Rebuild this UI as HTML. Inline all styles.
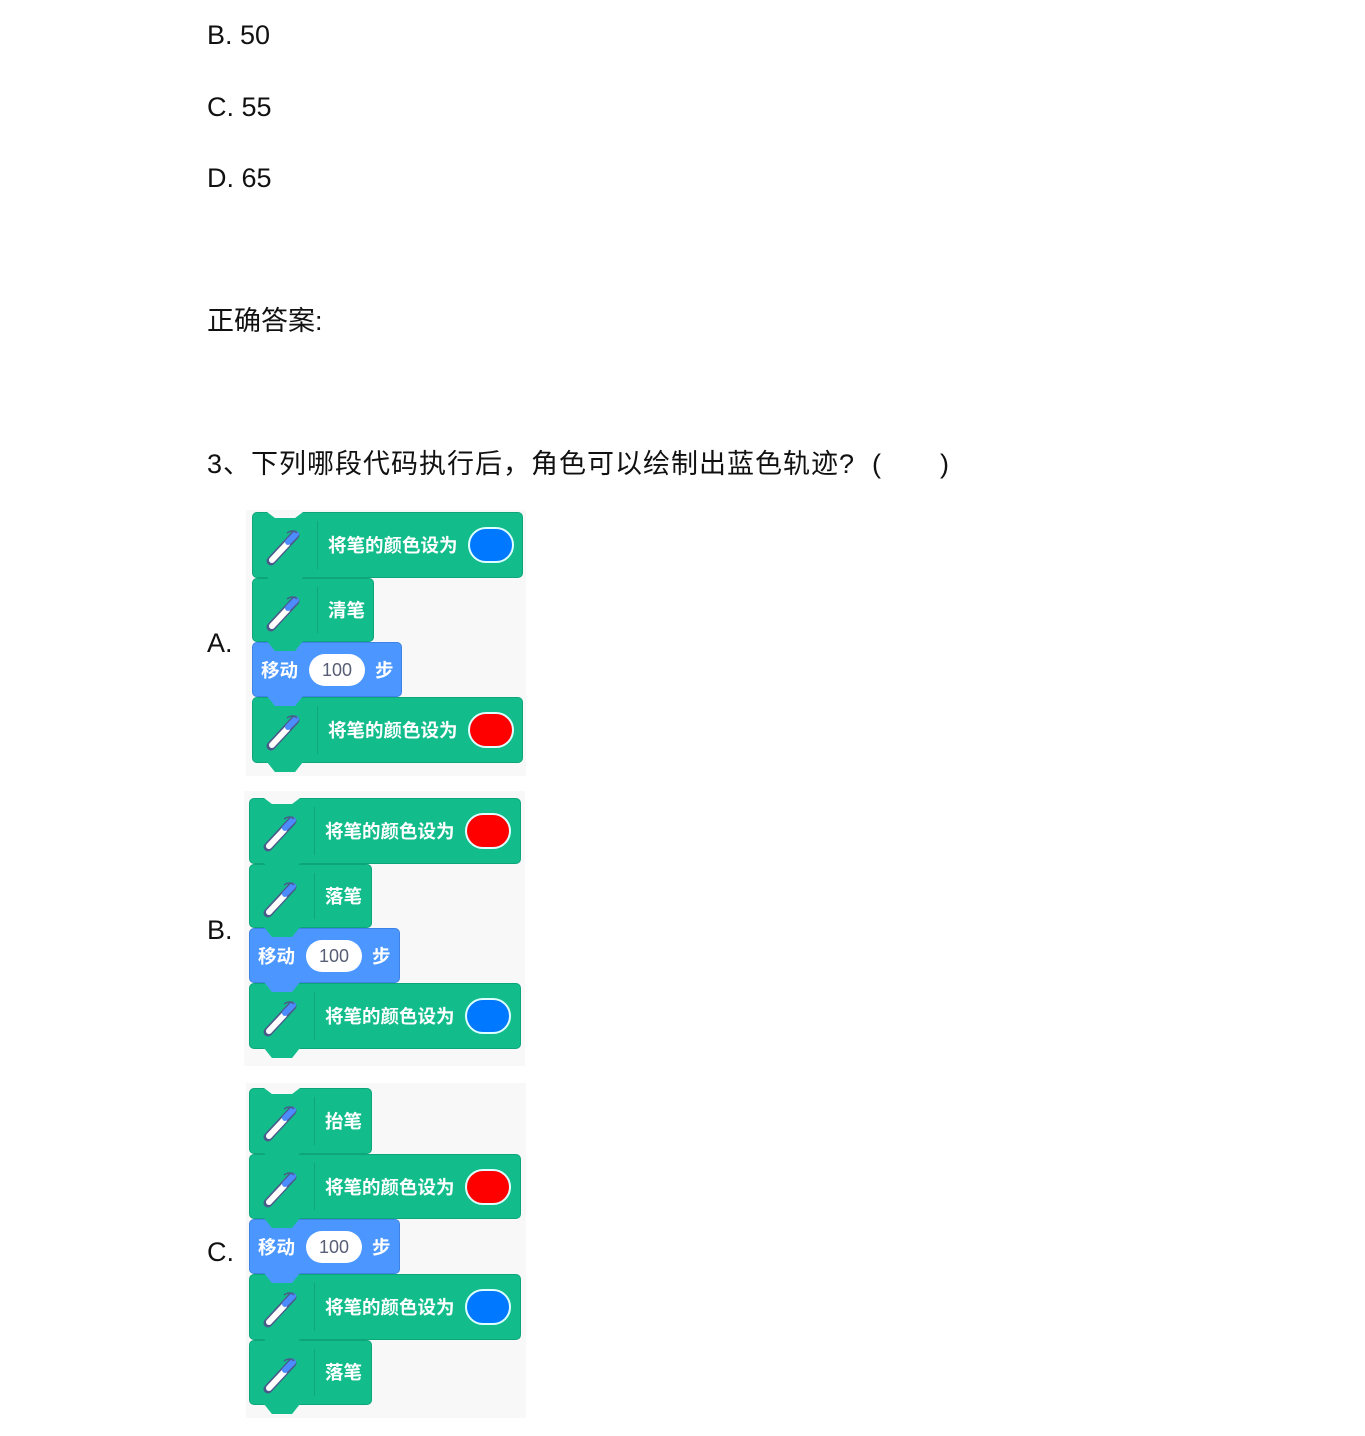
<!DOCTYPE html>
<html><head><meta charset="utf-8">
<style>
body{margin:0;background:#fff;width:1365px;height:1436px;position:relative;overflow:hidden;font-family:"Liberation Sans","Noto Sans CJK SC",sans-serif;}
.t{position:absolute;font-size:27px;color:#111;line-height:1;white-space:nowrap}
.panel{position:absolute;background:#f8f8f8}
.b{position:absolute;border-radius:5px;box-sizing:border-box;border:1px solid #0da57a;background:#12bd8b}
.b.m{background:#4c97ff;border-color:#3d82e6}
.tab{position:absolute;width:36px;height:10px;left:14px;bottom:-10px;background:inherit;clip-path:polygon(0 0,100% 0,78% 100%,22% 100%)}
.notch{position:absolute;width:36px;height:6px;left:14px;top:-1px;background:#f8f8f8;clip-path:polygon(0 0,100% 0,78% 100%,22% 100%)}
.div{position:absolute;left:64px;top:8px;bottom:8px;width:1px;background:#0ea67a}
.lbl{position:absolute;color:#fff;font-size:18.5px;line-height:1;white-space:nowrap;font-weight:bold}
.pen{position:absolute;left:12px;top:14px}
.col{position:absolute;width:46px;height:36px;border-radius:18px;border:2px solid #dff;box-sizing:border-box}
.num{position:absolute;background:#fff;border-radius:16px;width:56px;height:32px;color:#575e75;font-size:18px;text-align:center;line-height:32px}
</style></head><body>
<div class="t" style="left:207px;top:22px">B. 50</div>
<div class="t" style="left:207px;top:94px">C. 55</div>
<div class="t" style="left:207px;top:165px">D. 65</div>
<div class="t" style="left:207px;top:308px">正确答案:</div>
<div class="t" style="left:207px;top:451px;letter-spacing:1px">3、下列哪段代码执行后，角色可以绘制出蓝色轨迹?</div>
<div class="t" style="left:872px;top:451px">(</div>
<div class="t" style="left:940px;top:451px">)</div>
<div class="t" style="left:207px;top:630px">A.</div>
<div class="t" style="left:207px;top:917px">B.</div>
<div class="t" style="left:207px;top:1239px">C.</div>

<svg width="0" height="0" style="position:absolute"><defs>
<g id="pen"><line x1="6" y1="34" x2="30" y2="8" stroke="#4a5a8a" stroke-width="9" stroke-linecap="round"/><line x1="7" y1="33" x2="22" y2="17" stroke="#fff" stroke-width="6" stroke-linecap="round"/><line x1="23" y1="15" x2="31" y2="7" stroke="#4c8cff" stroke-width="6" stroke-linecap="round"/><path d="M22 6 Q28 2 32 6" stroke="#4a5a8a" fill="none" stroke-width="1.5"/></g>
</defs></svg>

<!-- Panel A -->
<div class="panel" style="left:246px;top:510px;width:280px;height:266px"></div>
<div class="b" style="left:252px;top:697px;width:271px;height:66px;z-index:1"><div class="tab"></div><div class="div"></div><svg class="pen" width="40" height="40"><use href="#pen"/></svg><div class="lbl" style="left:75px;top:24px">将笔的颜色设为</div><div class="col" style="left:215px;top:14px;background:#f00"></div></div>
<div class="b m" style="left:252px;top:642px;width:150px;height:55px;z-index:2"><div class="tab"></div><div class="lbl" style="left:8px;top:19px">移动</div><div class="num" style="left:56px;top:11px">100</div><div class="lbl" style="left:122px;top:19px">步</div></div>
<div class="b" style="left:252px;top:578px;width:122px;height:64px;z-index:3"><div class="tab"></div><div class="div"></div><svg class="pen" width="40" height="40"><use href="#pen"/></svg><div class="lbl" style="left:75px;top:23px">清笔</div></div>
<div class="b" style="left:252px;top:512px;width:271px;height:66px;z-index:4"><div class="notch"></div><div class="tab"></div><div class="div"></div><svg class="pen" width="40" height="40"><use href="#pen"/></svg><div class="lbl" style="left:75px;top:24px">将笔的颜色设为</div><div class="col" style="left:215px;top:14px;background:#0078ff"></div></div>

<!-- Panel B -->
<div class="panel" style="left:244px;top:791px;width:281px;height:275px"></div>
<div class="b" style="left:249px;top:983px;width:272px;height:66px;z-index:1"><div class="tab"></div><div class="div"></div><svg class="pen" width="40" height="40"><use href="#pen"/></svg><div class="lbl" style="left:75px;top:24px">将笔的颜色设为</div><div class="col" style="left:215px;top:14px;background:#0078ff"></div></div>
<div class="b m" style="left:249px;top:928px;width:151px;height:55px;z-index:2"><div class="tab"></div><div class="lbl" style="left:8px;top:19px">移动</div><div class="num" style="left:56px;top:11px">100</div><div class="lbl" style="left:122px;top:19px">步</div></div>
<div class="b" style="left:249px;top:864px;width:123px;height:64px;z-index:3"><div class="tab"></div><div class="div"></div><svg class="pen" width="40" height="40"><use href="#pen"/></svg><div class="lbl" style="left:75px;top:23px">落笔</div></div>
<div class="b" style="left:249px;top:798px;width:272px;height:66px;z-index:4"><div class="notch"></div><div class="tab"></div><div class="div"></div><svg class="pen" width="40" height="40"><use href="#pen"/></svg><div class="lbl" style="left:75px;top:24px">将笔的颜色设为</div><div class="col" style="left:215px;top:14px;background:#f00"></div></div>

<!-- Panel C -->
<div class="panel" style="left:246px;top:1083px;width:280px;height:335px"></div>
<div class="b" style="left:249px;top:1340px;width:123px;height:65px;z-index:1"><div class="tab"></div><div class="div"></div><svg class="pen" width="40" height="40"><use href="#pen"/></svg><div class="lbl" style="left:75px;top:23px">落笔</div></div>
<div class="b" style="left:249px;top:1274px;width:272px;height:66px;z-index:2"><div class="tab"></div><div class="div"></div><svg class="pen" width="40" height="40"><use href="#pen"/></svg><div class="lbl" style="left:75px;top:24px">将笔的颜色设为</div><div class="col" style="left:215px;top:14px;background:#0078ff"></div></div>
<div class="b m" style="left:249px;top:1219px;width:151px;height:55px;z-index:3"><div class="tab"></div><div class="lbl" style="left:8px;top:19px">移动</div><div class="num" style="left:56px;top:11px">100</div><div class="lbl" style="left:122px;top:19px">步</div></div>
<div class="b" style="left:249px;top:1154px;width:272px;height:65px;z-index:4"><div class="tab"></div><div class="div"></div><svg class="pen" width="40" height="40"><use href="#pen"/></svg><div class="lbl" style="left:75px;top:24px">将笔的颜色设为</div><div class="col" style="left:215px;top:14px;background:#f00"></div></div>
<div class="b" style="left:249px;top:1088px;width:123px;height:66px;z-index:5"><div class="notch"></div><div class="tab"></div><div class="div"></div><svg class="pen" width="40" height="40"><use href="#pen"/></svg><div class="lbl" style="left:75px;top:24px">抬笔</div></div>
</body></html>
